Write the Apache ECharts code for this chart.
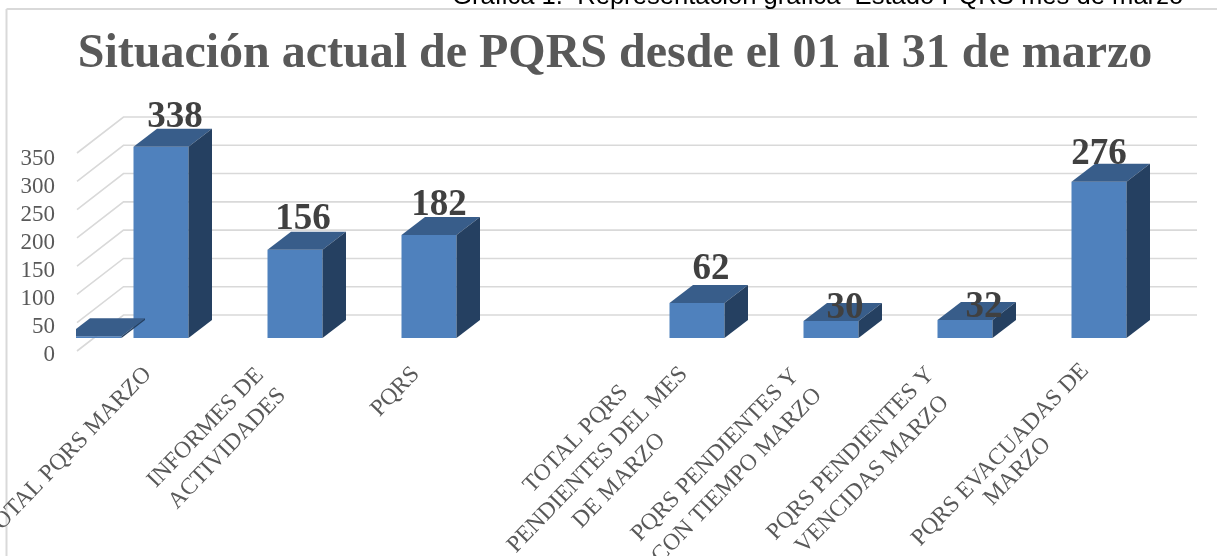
<!DOCTYPE html>
<html>
<head>
<meta charset="utf-8">
<title>Situación actual de PQRS</title>
<style>
	html, body { margin: 0; padding: 0; background: #fff; }
	#main { width: 1217px; height: 556px; }
</style>
<script src="https://cdn.jsdelivr.net/npm/echarts@6/dist/echarts.min.js"></script>
</head>
<body>
<div id="main"></div>
<script>
var categories = [
	'TOTAL PQRS MARZO',
	'INFORMES DE\nACTIVIDADES',
	'PQRS',
	'',
	'TOTAL PQRS\nPENDIENTES DEL MES\nDE MARZO',
	'PQRS PENDIENTES Y\nCON TIEMPO MARZO',
	'PQRS PENDIENTES Y\nVENCIDAS MARZO',
	'PQRS EVACUADAS DE\nMARZO'
];
var barValues = [338, 156, 182, null, 62, 30, 32, 276];
// la barra plana que asoma a la izquierda del primer grupo
var flatValues = [3];
var yTicks = [0, 50, 100, 150, 200, 250, 300, 350];

// ajuste a mano de las etiquetas, igual que en el original
var labelDx = [14, 8, 10, 0, 14, 14, 19, 0];
var labelDy = [-29, -30, -30, 0, -33, -13, -12, -27];

var SERIF = '"Liberation Serif", "Times New Roman", serif';
var BAR_W = 55;
var DEPTH_X = 23.5, DEPTH_Y = 18;

function box(cx, top, bottom) {
	var l = cx - BAR_W / 2, r = cx + BAR_W / 2;
	return [
		{ type: 'polygon', shape: { points: [[l, top], [r, top], [r, bottom], [l, bottom]] }, style: { fill: '#4f81bd' } },
		{ type: 'polygon', shape: { points: [[l, top], [l + DEPTH_X, top - DEPTH_Y], [r + DEPTH_X, top - DEPTH_Y], [r, top]] }, style: { fill: '#385d8a' } },
		{ type: 'polygon', shape: { points: [[r, top], [r + DEPTH_X, top - DEPTH_Y], [r + DEPTH_X, bottom - DEPTH_Y], [r, bottom]] }, style: { fill: '#254061' } }
	];
}

function catLine(padTop, padRight) {
	return { align: 'center', padding: [padTop, padRight, 0, 0], fontFamily: SERIF, fontSize: 23.5, lineHeight: 30, color: '#595959' };
}

var myChart = echarts.init(document.getElementById('main'), null, { renderer: 'canvas' });

myChart.setOption({
	animation: false,
	title: [
		{
			text: 'Gráfica 1.  Representación gráfica  Estado PQRS mes de marzo',
			left: 452, top: -16, padding: 0,
			textStyle: { fontFamily: '"Liberation Sans", Arial, sans-serif', fontSize: 25.6, fontWeight: 'normal', color: '#000' }
		},
		{
			text: 'Situación actual de PQRS desde el 01 al 31 de marzo',
			left: 615, top: 31, padding: 0, textAlign: 'center',
			textStyle: { fontFamily: SERIF, fontSize: 48, fontWeight: 'bold', color: '#595959' }
		}
	],
	graphic: [
		{ type: 'line', shape: { x1: 6.5, y1: 9, x2: 1217, y2: 9 }, style: { stroke: '#d9d9d9', lineWidth: 2 } },
		{ type: 'line', shape: { x1: 6.5, y1: 9, x2: 6.5, y2: 556 }, style: { stroke: '#d9d9d9', lineWidth: 2 } }
	],
	// segundo grid solo para los numeros del eje, que van mas abajo que el plano de las barras
	grid: [
		{ left: 94, right: 51, top: 140, bottom: 218, outerBoundsMode: 'none' },
		{ left: 94, right: 51, top: 159, bottom: 201, outerBoundsMode: 'none' }
	],
	xAxis: [
		{
			type: 'category',
			data: categories,
			axisLine: { show: false },
			axisTick: { show: false },
			splitLine: { show: false },
			axisLabel: {
				interval: 0,
				rotate: 46,
				margin: 19,
				align: 'right',
				verticalAlign: 'middle',
				color: '#595959',
				formatter: function(value, index) {
					if (!value) return '';
					var lines = value.split('\n');
					return lines.map(function(s, i) {
						// la ultima etiqueta va algo corrida en el original
						var style = index === 7 ? 'e' + i : 'c' + lines.length;
						return '{' + style + '|' + s + '}';
					}).join('\n');
				},
				rich: {
					c1: catLine(0, 19), c2: catLine(0, 34), c3: catLine(0, 19),
					e0: catLine(24, 17), e1: catLine(12, 17)
				}
			}
		},
		{ type: 'category', gridIndex: 1, data: categories, show: false }
	],
	yAxis: [
		{
			type: 'value',
			min: 0,
			max: 350,
			interval: 50,
			axisLine: { show: false },
			axisTick: { show: false },
			splitLine: { show: false },
			axisLabel: { show: false }
		},
		{
			type: 'value',
			gridIndex: 1,
			min: 0,
			max: 350,
			interval: 50,
			axisLine: { show: false },
			axisTick: { show: false },
			splitLine: { show: false },
			axisLabel: { margin: 39, fontFamily: SERIF, fontSize: 23, color: '#595959' }
		}
	],
	series: [
		{
			// rejilla en perspectiva
			type: 'custom',
			name: 'rejilla',
			z: 1,
			silent: true,
			data: yTicks.map(function(t) { return [0, t]; }),
			encode: { x: 0, y: 1 },
			renderItem: function(params, api) {
				var p = api.coord([0, api.value(1)]);
				var band = api.size([1, 0])[0];
				var last = api.coord([categories.length - 1, api.value(1)]);
				var left = p[0] - band / 2;
				return {
					type: 'polyline',
					shape: { points: [[left - 17, p[1] + 13], [left + 29.5, p[1] - 23], [last[0] + band / 2 + 31, p[1] - 23]] },
					style: { stroke: '#d9d9d9', lineWidth: 1.6, fill: null }
				};
			}
		},
		{
			type: 'custom',
			name: 'PQRS',
			z: 2,
			data: barValues.map(function(v, i) { return [i, v]; }),
			encode: { x: 0, y: 1 },
			renderItem: function(params, api) {
				var v = api.value(1);
				if (isNaN(v)) return null;
				var top = api.coord([api.value(0), v]);
				var bottom = api.coord([api.value(0), 0]);
				var kids = box(top[0], top[1], bottom[1]);
				kids.push({
					type: 'text',
					z2: 10,
					x: top[0] + labelDx[params.dataIndex],
					y: top[1] + labelDy[params.dataIndex],
					style: {
						text: String(v),
						fontFamily: SERIF, fontSize: 37, fontWeight: 'bold',
						fill: '#404040', align: 'center', verticalAlign: 'middle'
					}
				});
				return { type: 'group', children: kids };
			}
		},
		{
			type: 'custom',
			name: 'plana',
			z: 3,
			data: flatValues.map(function(v) { return [0, v]; }),
			encode: { x: 0, y: 1 },
			renderItem: function(params, api) {
				var top = api.coord([0, api.value(1)]);
				var bottom = api.coord([0, 0]);
				var band = api.size([1, 0])[0];
				return {
					type: 'group',
					clipPath: { type: 'rect', shape: { x: 76, y: 0, width: 300, height: 556 } },
					children: box(top[0] - band / 2, top[1], bottom[1])
				};
			}
		}
	]
});
</script>
</body>
</html>
